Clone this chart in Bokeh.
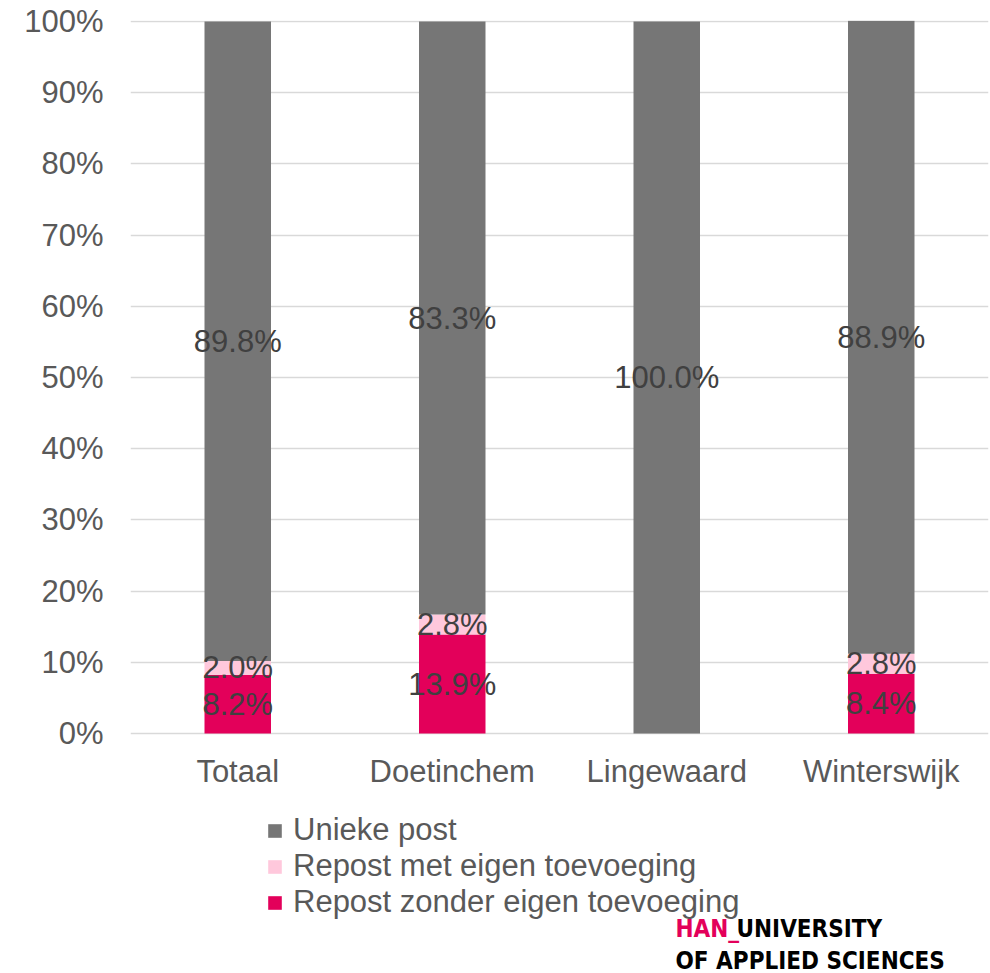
from bokeh.plotting import figure
from bokeh.models import (Range1d, FactorRange, FixedTicker, NumeralTickFormatter, Legend,
                          LegendItem, Label, ColumnDataSource)
from bokeh.core.properties import value
from bokeh.embed import file_html
from bokeh.resources import INLINE

categories = ["Totaal", "Doetinchem", "Lingewaard", "Winterswijk"]
repost_zonder = [0.082, 0.139, 0.0, 0.084]
repost_met = [0.020, 0.028, 0.0, 0.028]
unieke_post = [0.898, 0.833, 1.0, 0.889]
y_ticks = [0.0, 0.1, 0.2, 0.3, 0.4, 0.5, 0.6, 0.7, 0.8, 0.9, 1.0]

series_keys = ["zonder", "met", "uniek"]
series_names = {"uniek": "Unieke post", "met": "Repost met eigen toevoeging",
                "zonder": "Repost zonder eigen toevoeging"}
colors = {"uniek": "#767676", "met": "#FFC8DC", "zonder": "#E3005A"}

FONT = "Liberation Sans"

# frame spans from y=20 to the bottom of the canvas; value 0 sits 240 px above the bottom
PX_PER_UNIT = 712.0
p = figure(width=990, height=973, x_range=FactorRange(*categories, range_padding=0),
           y_range=Range1d(-240 / PX_PER_UNIT, 1 + 1 / PX_PER_UNIT),
           output_backend="svg", toolbar_location=None,
           min_border_left=130, min_border_right=2, min_border_top=20, min_border_bottom=0)
p.outline_line_color = None
p.background_fill_color = "white"
p.border_fill_color = "white"

src = ColumnDataSource(dict(cat=categories, zonder=repost_zonder, met=repost_met, uniek=unieke_post))
renderers = p.vbar_stack(series_keys, x="cat", width=0.31, source=src,
                         color=[colors[k] for k in series_keys], line_color=None)

# data labels centred in each segment
lx, ly, lt = [], [], []
for i, c in enumerate(categories):
    base = 0.0
    for vals in (repost_zonder, repost_met, unieke_post):
        v = vals[i]
        if v > 0:
            lx.append(c)
            ly.append(base + v / 2)
            lt.append(f"{v*100:.1f}%")
        base += v
p.text(x=lx, y=ly, text=lt, text_font=value(FONT), text_font_size="31px",
       text_color="#404040", text_align="center", text_baseline="middle")

# axes
p.yaxis.ticker = FixedTicker(ticks=y_ticks)
p.yaxis.formatter = NumeralTickFormatter(format="0%")
p.yaxis.axis_line_color = None
p.yaxis.major_tick_line_color = None
p.yaxis.minor_tick_line_color = None
p.yaxis.major_tick_out = 0
p.yaxis.major_label_standoff = 27
p.yaxis.major_label_text_font = FONT
p.yaxis.major_label_text_font_size = "31px"
p.yaxis.major_label_text_color = "#595959"

p.xaxis.axis_line_color = None
p.xaxis.major_tick_line_color = None
p.xaxis.minor_tick_line_color = None
p.xaxis.major_tick_out = 0
p.xaxis.major_tick_in = 0
p.xaxis.major_label_standoff = -220
p.xaxis.major_label_text_font = FONT
p.xaxis.major_label_text_font_size = "31px"
p.xaxis.major_label_text_color = "#595959"

p.xgrid.grid_line_color = None
p.ygrid.grid_line_color = "#D9D9D9"
p.ygrid.grid_line_width = 1.5

rmap = dict(zip(series_keys, renderers))
legend = Legend(items=[LegendItem(label=series_names[k], renderers=[rmap[k]]) for k in ["uniek", "met", "zonder"]],
                location=(136, 53), orientation="vertical", padding=0, margin=0, spacing=0,
                glyph_width=17, glyph_height=17, label_height=36, label_standoff=10,
                label_text_font=FONT, label_text_font_size="31px", label_text_color="#595959",
                border_line_color=None, background_fill_alpha=0)
p.add_layout(legend, "center")

LOGO_FONT = "'Liberation Sans Narrow', 'DejaVu Sans Condensed', 'Roboto Condensed', Roboto"
common = dict(x_units="screen", y_units="screen", text_font=LOGO_FONT, text_font_style="bold",
              text_font_size="24px", text_baseline="alphabetic")
p.add_layout(Label(x=545, y=45, text="HAN_", text_color="#E3005A", **common))
p.add_layout(Label(x=606, y=45, text="UNIVERSITY", text_color="#000000", **common))
p.add_layout(Label(x=545, y=13, text="OF APPLIED SCIENCES", text_color="#000000", **common))

open("out.html", "w").write(file_html(p, INLINE))
